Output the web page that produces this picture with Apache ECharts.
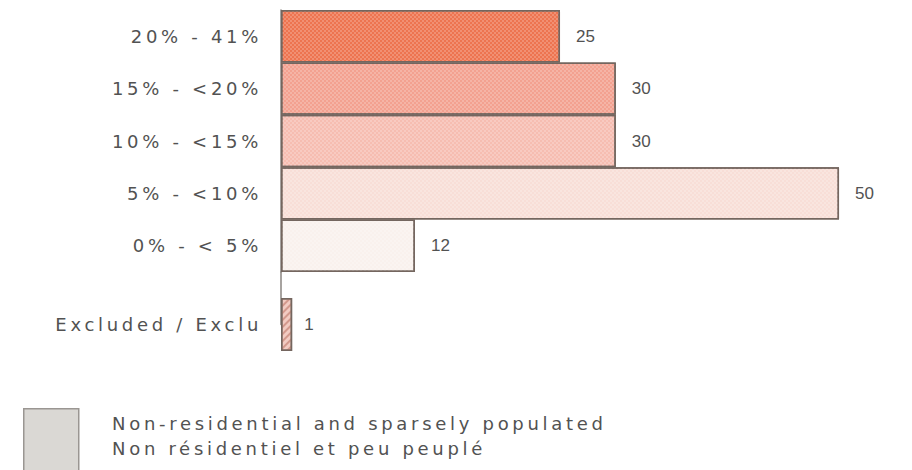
<!DOCTYPE html>
<html>
<head>
<meta charset="utf-8">
<script src="https://cdn.jsdelivr.net/npm/echarts@6/dist/echarts.min.js"></script>
<style>
  html, body { margin: 0; padding: 0; background: #ffffff; }
  #chart { width: 912px; height: 470px; }
  #chart text[style*="DejaVu"], #chart text[font-family*="DejaVu"] { letter-spacing: 3.7px; }
</style>
</head>
<body>
<div id="chart"></div>
<script>
// ---- data ----
var categories = ['20% - 41%', '15% - <20%', '10% - <15%', '5% - <10%', '0% - < 5%'];
var values = [25, 30, 30, 50, 12];
var excludedCategory = 'Excluded / Exclu';
var excludedValue = 1;
var legendLines = ['Non-residential and sparsely populated', 'Non résidentiel et peu peuplé'];

// ---- styles ----
var barColors = ['#ed7450', '#f3a190', '#f6bdb1', '#f8ded7', '#f9f1ed'];
var textColor = '#525252';
var borderColor = '#74665f';

var dotDecal = {
  symbol: 'rect',
  symbolSize: 1,
  dashArrayX: [[2, 2], [0, 2, 2, 0]],
  dashArrayY: [2, 0],
  color: 'rgba(255,255,255,0.2)'
};

var mainData = values.map(function (v, i) {
  return {
    value: v,
    itemStyle: { color: barColors[i], borderColor: borderColor, borderWidth: 1.5, decal: dotDecal }
  };
});

var chart = echarts.init(document.getElementById('chart'), null, { renderer: 'svg' });

var labelFont = { fontFamily: 'DejaVu Sans', fontSize: 18, color: textColor };

chart.setOption({
  animation: false,
  backgroundColor: '#ffffff',
  grid: [
    { left: 281, top: 10, width: 625, height: 262 },
    { left: 281, top: 272, width: 625, height: 52.5 }
  ],
  xAxis: [
    { type: 'value', gridIndex: 0, min: 0, max: 56, show: false },
    { type: 'value', gridIndex: 1, min: 0, max: 56, show: false }
  ],
  yAxis: [
    {
      type: 'category', gridIndex: 0, data: categories, inverse: true,
      axisLine: { show: true, lineStyle: { color: '#8a8480', width: 1.5 } },
      axisTick: { show: false },
      axisLabel: Object.assign({ margin: 19 }, labelFont)
    },
    {
      type: 'category', gridIndex: 1, data: ['', excludedCategory], inverse: true,
      boundaryGap: false,
      axisLine: { show: true, lineStyle: { color: '#8a8480', width: 1.5 } },
      axisTick: { show: false },
      axisLabel: Object.assign({ margin: 19 }, labelFont)
    }
  ],
  series: [
    {
      type: 'bar', xAxisIndex: 0, yAxisIndex: 0,
      data: mainData,
      barCategoryGap: '0%',
      label: {
        show: true, position: 'right', distance: 16,
        fontFamily: 'Liberation Sans', fontSize: 17, color: textColor
      }
    },
    {
      type: 'bar', xAxisIndex: 1, yAxisIndex: 1,
      clip: false,
      data: [null, {
        value: excludedValue,
        itemStyle: {
          color: '#f2cbc2', borderColor: borderColor, borderWidth: 1.5,
          decal: {
            symbol: 'rect', symbolSize: 1,
            dashArrayX: [1, 0], dashArrayY: [2, 3],
            rotation: -Math.PI / 4,
            color: 'rgba(190,120,105,0.6)'
          }
        }
      }],
      barWidth: 53,
      label: {
        show: true, position: 'right', distance: 12,
        fontFamily: 'Liberation Sans', fontSize: 17, color: textColor
      }
    }
  ],
  graphic: [
    {
      type: 'rect', left: 23, top: 408,
      shape: { width: 55, height: 66 },
      style: { fill: '#dad8d4', stroke: '#9a9692', lineWidth: 1.5 }
    },
    {
      type: 'text', left: 112, top: 411,
      style: {
        text: legendLines.join('\n'),
        fontFamily: 'DejaVu Sans', fontSize: 18, lineHeight: 25,
        fill: textColor
      }
    }
  ]
});
</script>
</body>
</html>
